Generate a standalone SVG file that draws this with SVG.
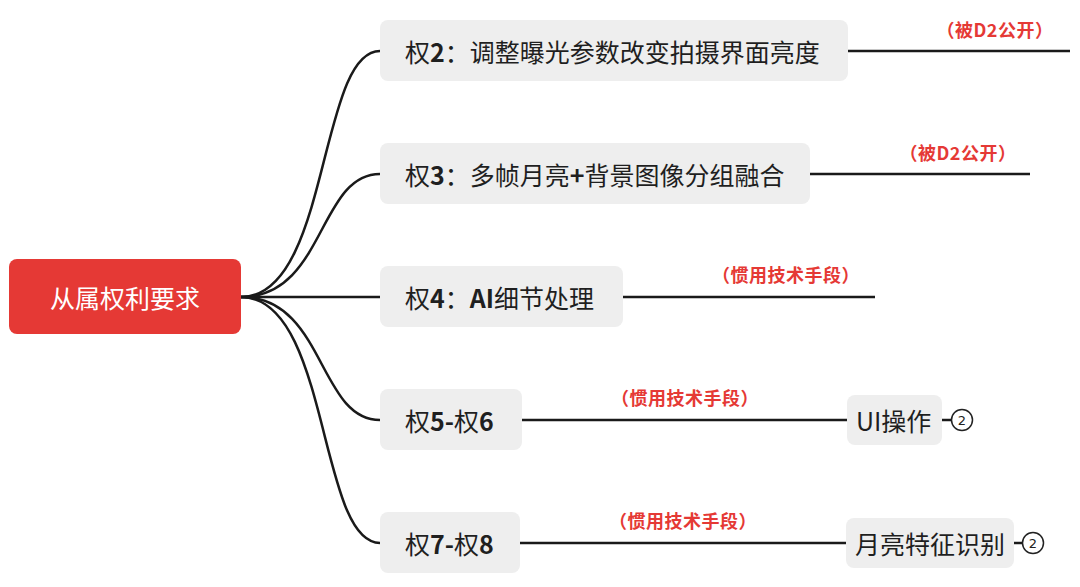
<svg xmlns="http://www.w3.org/2000/svg" width="1080" height="587" viewBox="0 0 1080 587">
<style>
.n{fill:#EEEEEE}
.t{font-family:"Noto Sans CJK SC","Noto Sans",sans-serif;font-size:25px;fill:#1f1f1f;dominant-baseline:central}
.b{font-weight:bold}
.r{font-family:"Noto Sans CJK SC","Noto Sans",sans-serif;font-size:18px;font-weight:bold;fill:#E53935;text-anchor:middle;dominant-baseline:central;letter-spacing:0.5px}
.c{fill:none;stroke:#1a1a1a;stroke-width:2.5}
.k{fill:#fff;stroke:#222;stroke-width:1.5}
.kt{font-family:"DejaVu Sans",sans-serif;font-size:13px;fill:#222;text-anchor:middle;dominant-baseline:central}
</style>
<g id="connectors">
<path class="c" d="M241,297 C330,297 318,51 380,51"/>
<path class="c" d="M241,297 C325,297 318,174 380,174"/>
<path class="c" d="M241,297 L380,297"/>
<path class="c" d="M241,297 C325,297 318,420 380,420"/>
<path class="c" d="M241,297 C330,297 318,543 380,543"/>
<path class="c" d="M848,51 L1070,51"/>
<path class="c" d="M810,174 L1030,174"/>
<path class="c" d="M623,297 L875,297"/>
<path class="c" d="M522,420 L847,420"/>
<path class="c" d="M520,543 L846,543"/>
<path class="c" d="M942,420 L951,420"/>
<path class="c" d="M1014,543 L1022,543"/>
</g>
<g id="root">
<rect x="9" y="259" width="232" height="75" rx="8" fill="#E53935"/>
<text x="125" y="297" class="t" style="fill:#fff;font-size:25px;text-anchor:middle">从属权利要求</text>
</g>
<g id="n2">
<rect class="n" x="380" y="20" width="468" height="61" rx="8"/>
<text class="t" x="405" y="51">权<tspan class="b">2</tspan>：调整曝光参数改变拍摄界面亮度</text>
</g>
<g id="n3">
<rect class="n" x="380" y="143" width="430" height="61" rx="8"/>
<text class="t" x="405" y="174">权<tspan class="b">3</tspan>：多帧月亮<tspan class="b">+</tspan>背景图像分组融合</text>
</g>
<g id="n4">
<rect class="n" x="380" y="266" width="243" height="61" rx="8"/>
<text class="t" x="405" y="297">权<tspan class="b">4</tspan>：<tspan class="b">AI</tspan>细节处理</text>
</g>
<g id="n56">
<rect class="n" x="380" y="389" width="142" height="61" rx="8"/>
<text class="t" x="405" y="420">权<tspan class="b">5-</tspan>权<tspan class="b">6</tspan></text>
</g>
<g id="n78">
<rect class="n" x="380" y="512" width="140" height="61" rx="8"/>
<text class="t" x="405" y="543">权<tspan class="b">7-</tspan>权<tspan class="b">8</tspan></text>
</g>
<g id="ui">
<rect class="n" x="847" y="395" width="95" height="50" rx="8"/>
<text class="t" x="856" y="420">UI操作</text>
<circle class="k" cx="962" cy="420" r="10.5"/>
<text class="kt" x="962" y="420">2</text>
</g>
<g id="moon">
<rect class="n" x="846" y="518" width="168" height="50" rx="8"/>
<text class="t" x="855" y="543">月亮特征识别</text>
<circle class="k" cx="1033" cy="543" r="10.5"/>
<text class="kt" x="1033" y="543">2</text>
</g>
<g id="labels">
<text class="r" x="995" y="29">（被D2公开）</text>
<text class="r" x="958" y="152">（被D2公开）</text>
<text class="r" x="786" y="274">（惯用技术手段）</text>
<text class="r" x="685" y="397">（惯用技术手段）</text>
<text class="r" x="683" y="520">（惯用技术手段）</text>
</g>
</svg>
